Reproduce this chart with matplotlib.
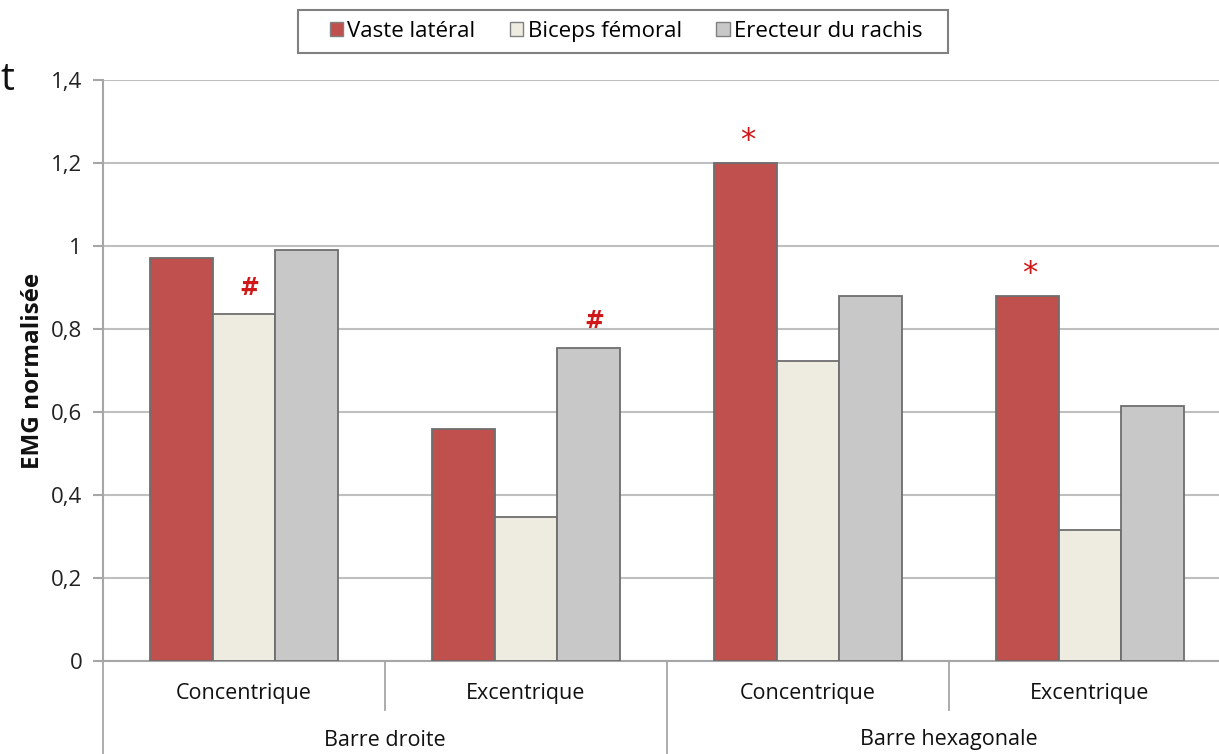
import matplotlib
matplotlib.use("Agg")
import matplotlib.pyplot as plt
import matplotlib.transforms as mtransforms
from matplotlib.patches import Patch, Rectangle
import numpy as np

plt.rcParams['font.family'] = ['Liberation Sans Narrow', 'Open Sans', 'DejaVu Sans']

conditions = ["Concentrique", "Excentrique", "Concentrique", "Excentrique"]
bars = ["Barre droite", "Barre hexagonale"]
series = ["Vaste latéral", "Biceps fémoral", "Erecteur du rachis"]
vaste = [0.97, 0.56, 1.20, 0.88]
biceps = [0.835, 0.347, 0.723, 0.315]
erecteur = [0.99, 0.755, 0.88, 0.615]
colors = ["#C0504D", "#EEECE1", "#C8C8C8"]
yticks = [0, 0.2, 0.4, 0.6, 0.8, 1.0, 1.2, 1.4]
ytick_labels = ["0", "0,2", "0,4", "0,6", "0,8", "1", "1,2", "1,4"]
# significance marks: (group index, series index, symbol)
marks = [(0, 1, "#"), (1, 2, "#"), (2, 0, "*"), (3, 0, "*")]

W, H = 1219, 754
fig = plt.figure(figsize=(W / 100, H / 100), dpi=100)
ax = fig.add_axes([103 / W, 1 - 661 / H, (1231 - 103) / W, (661 - 80) / H])

x = np.arange(len(conditions))
bw = 0.2234
values = [vaste, biceps, erecteur]
for i, (vals, c) in enumerate(zip(values, colors)):
    ax.bar(x + (i - 1) * bw, vals, width=bw, color=c, edgecolor="#6E6E6E",
           linewidth=1.3, zorder=3)

ax.set_xlim(-0.5, 3.5)
ax.set_ylim(0, 1.4)
ax.set_yticks(yticks)
ax.set_yticklabels(ytick_labels, fontsize=16, color="#222222")
ax.set_xticks([])
ax.yaxis.grid(True, color="#BFBFBF", linewidth=1.5, zorder=0)
ax.set_axisbelow(True)
for s in ["top", "right"]:
    ax.spines[s].set_visible(False)
for s in ["left", "bottom"]:
    ax.spines[s].set_color("#A6A6A6")
    ax.spines[s].set_linewidth(1.5)
ax.tick_params(axis="y", length=7, width=1.5, color="#A6A6A6", pad=8)

fig.text(33 / W, 1 - 371 / H, "EMG normalisée", rotation=90, fontsize=17.5,
         fontweight="bold", ha="center", va="center", color="#111111")

# significance symbols
for g, s, sym in marks:
    v = values[s][g]
    off = 0.035 if sym == "#" else 0.02
    ax.text(x[g] + (s - 1) * bw + (0.02 if sym == "#" else 0.01), v + off, sym,
            color="#D01818", fontsize=17 if sym == "#" else 22,
            fontweight="bold" if sym == "#" else "normal",
            ha="center", va="bottom", family="DejaVu Sans")

# hierarchical category axis
trans = mtransforms.blended_transform_factory(ax.transData, ax.transAxes)
for xi in [0.5, 2.5]:
    ax.plot([xi, xi], [0, -49 / 581], transform=trans, color="#A6A6A6",
            lw=1.3, clip_on=False)
for xi in [-0.5, 1.5]:
    ax.plot([xi, xi], [0, -100 / 581], transform=trans, color="#A6A6A6",
            lw=1.3, clip_on=False)
for xi, lab in zip(x, conditions):
    ax.text(xi, -32 / 581, lab, transform=trans, ha="center", va="center",
            fontsize=15.5, color="#111111")
for j, lab in enumerate(bars):
    ax.text(2 * j + 0.5, -79 / 581, lab, transform=trans, ha="center",
            va="center", fontsize=15.5, color="#111111")

# legend
handles = [Patch(facecolor=c, edgecolor="#808080", linewidth=1.0) for c in colors]
leg = fig.legend(handles, series, loc="center", bbox_to_anchor=(626 / W, 1 - 31.5 / H),
                 ncol=3, fontsize=16, frameon=False,
                 handlelength=0.6, handleheight=0.6,
                 handletextpad=0.2, columnspacing=1.55, borderpad=0.3,
                 borderaxespad=0)
fig.patches.append(Rectangle((298 / W, 1 - 53 / H), 650 / W, 43 / H,
                             transform=fig.transFigure, facecolor="none",
                             edgecolor="#808080", linewidth=1.5))

fig.text(0.0, 1 - 80 / H, "t", fontsize=28, ha="left", va="center", color="#111111")

fig.savefig("out.png", dpi=100)
